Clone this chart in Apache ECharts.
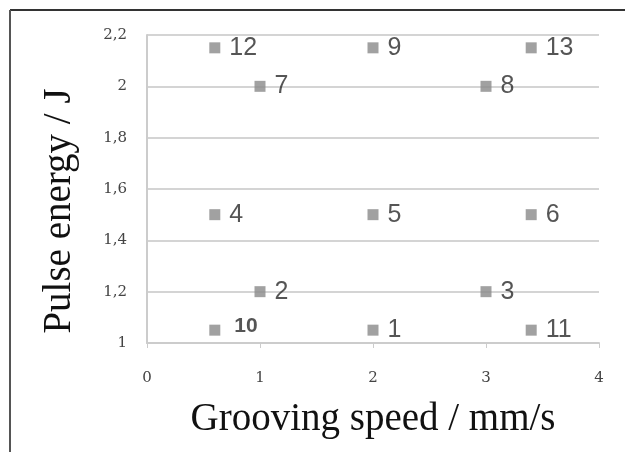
<!DOCTYPE html>
<html><head><meta charset="utf-8">
<script src="https://cdn.jsdelivr.net/npm/echarts@6/dist/echarts.min.js"></script>
<style>html,body{margin:0;padding:0;background:#fff}#c{width:625px;height:452px}</style>
</head><body><div id="c"></div>
<script>
var speeds   = [2, 1, 3, 0.6, 2, 3.4, 1, 3, 2, 0.6, 3.4, 0.6, 3.4];
var energies = [1.05, 1.2, 1.2, 1.5, 1.5, 1.5, 2.0, 2.0, 2.15, 1.05, 1.05, 2.15, 2.15];
var pointLabels = ['1','2','3','4','5','6','7','8','9','10','11','12','13'];
var xTicks = [0, 1, 2, 3, 4];
var yTicks = [1, 1.2, 1.4, 1.6, 1.8, 2, 2.2];

var data = speeds.map(function(s, i){
  var item = {value: [s, energies[i]], name: pointLabels[i]};
  if (pointLabels[i] === '10') {
    item.label = {fontSize: 21, fontWeight: 'bold', offset: [5, -4]};
  }
  return item;
});

var chart = echarts.init(document.getElementById('c'));
chart.setOption({
  animation: false,
  graphic: [
    {type:'line', shape:{x1:10,y1:10,x2:625,y2:10}, style:{stroke:'#333', lineWidth:2}},
    {type:'line', shape:{x1:10,y1:10,x2:10,y2:452}, style:{stroke:'#555', lineWidth:2}}
  ],
  grid: {left:147, right:26, top:35, bottom:109},
  xAxis: {
    type:'value', min:0, max:4, interval:1,
    name:'Grooving speed / mm/s', nameLocation:'middle', nameGap:57,
    nameTextStyle:{fontFamily:'Liberation Serif', fontSize:39, color:'#111'},
    axisLine:{show:true, lineStyle:{color:'#ccc', width:2}},
    axisTick:{show:true, length:5, lineStyle:{color:'#ccc'}},
    splitLine:{show:false},
    axisLabel:{fontFamily:'DejaVu Serif', fontSize:15, color:'#444', margin:28,
      formatter:function(v){return String(v);}}
  },
  yAxis: {
    type:'value', min:1, max:2.2, interval:0.2,
    name:'Pulse energy / J', nameLocation:'middle', nameGap:68,
    nameTextStyle:{fontFamily:'Liberation Serif', fontSize:39, color:'#111', padding:[0,44,0,0]},
    axisLine:{show:true, lineStyle:{color:'#ccc', width:2}},
    axisTick:{show:false},
    splitLine:{show:true, lineStyle:{color:'#d4d4d4', width:2}},
    axisLabel:{fontFamily:'DejaVu Serif', fontSize:15, color:'#444', margin:20,
      formatter:function(v){return (Math.round(v*10)/10).toString().replace('.', ',');}}
  },
  series: [{
    type:'scatter', symbol:'rect', symbolSize:11,
    itemStyle:{color:'#8a8a8a'},
    data:data,
    label:{show:true, position:'right', distance:9,
      formatter:function(p){return p.name;},
      fontFamily:'Liberation Sans', fontSize:25, color:'#2a2a2a'}
  }]
});
</script></body></html>
